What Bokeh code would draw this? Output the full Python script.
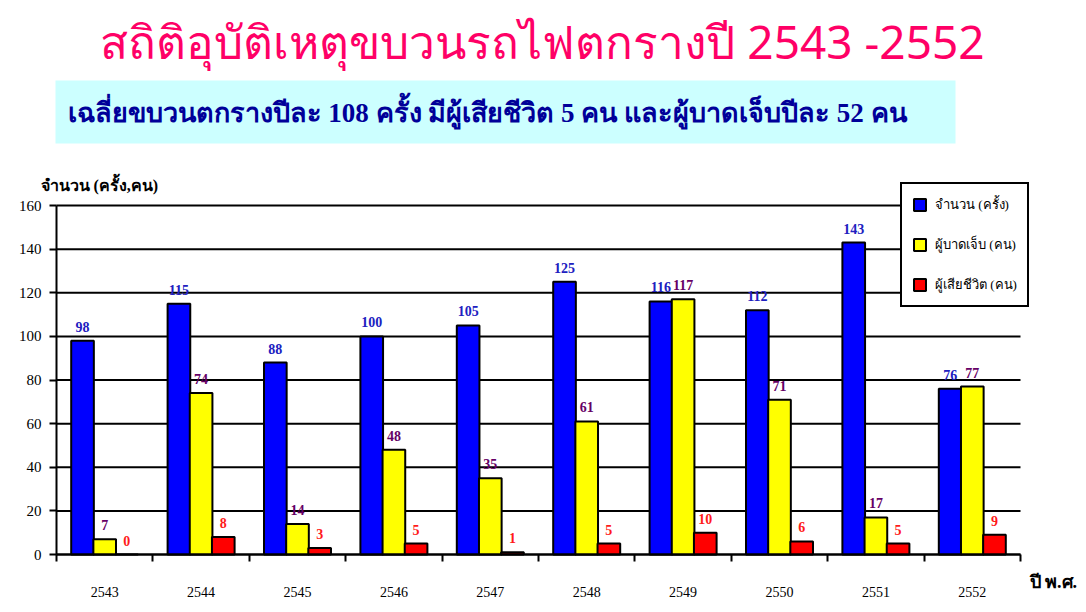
import numpy as np
from bokeh.plotting import figure
from bokeh.models import Range1d, FixedTicker, Label, BoxAnnotation, Legend, LegendItem, ColumnDataSource
from bokeh.core.properties import value
from bokeh.embed import file_html
from bokeh.resources import INLINE

# ---------------- data ----------------
years = ["2543", "2544", "2545", "2546", "2547", "2548", "2549", "2550", "2551", "2552"]
accidents = [98, 115, 88, 100, 105, 125, 116, 112, 143, 76]
injured = [7, 74, 14, 48, 35, 61, 117, 71, 17, 77]
deaths = [0, 8, 3, 5, 1, 5, 10, 6, 5, 9]

series_names = ["จำนวน (ครั้ง)", "ผู้บาดเจ็บ (คน)", "ผู้เสียชีวิต (คน)"]
title_text = "สถิติอุบัติเหตุขบวนรถไฟตกรางปี 2543 -2552"
subtitle_text = "เฉลี่ยขบวนตกรางปีละ 108 ครั้ง มีผู้เสียชีวิต 5 คน และผู้บาดเจ็บปีละ 52 คน"
y_title = "จำนวน (ครั้ง,คน)"
x_title = "ปี พ.ศ."
y_ticks = [0, 20, 40, 60, 80, 100, 120, 140, 160]

# ---------------- styles / layout ----------------
bar_colors = ["#0000FF", "#FFFF00", "#FF0000"]
label_colors = ["#2020C0", "#660066", "#FF1A1A"]
offsets = [-0.23, 0.0, 0.23]
bar_w = 0.235
SERIF = "Liberation Serif"

W, H = 1082, 608
NCAT = len(years)
YMAX = y_ticks[-1]
# canvas-pixel geometry of the chart area
PX_LEFT, PX_RIGHT, PX_TOP, PX_BOTTOM = 56, 1020, 205, 554
XS = (PX_RIGHT - PX_LEFT) / NCAT
YS = (PX_BOTTOM - PX_TOP) / YMAX

def dx(px):  # canvas pixel x -> data x
    return (px - PX_LEFT) / XS

def dy(py):  # canvas pixel y -> data y
    return (PX_BOTTOM - py) / YS

x_range = Range1d(dx(0), dx(W))
y_range = Range1d(dy(H), dy(0))

p = figure(width=W, height=H, x_range=x_range, y_range=y_range,
           output_backend="svg", toolbar_location=None,
           min_border_left=0, min_border_right=0, min_border_top=0, min_border_bottom=0)
p.outline_line_color = None
p.background_fill_color = "white"
p.border_fill_color = "white"
p.xgrid.visible = False
p.ygrid.visible = False

centers = np.arange(NCAT) + 0.5

# subtitle box
p.add_layout(BoxAnnotation(left=dx(55), right=dx(955), top=dy(80), bottom=dy(143),
                           fill_color="#CCFFFF", fill_alpha=1.0, line_color=None, level="underlay"))

# horizontal grid lines across the category span
p.segment(x0=0, x1=NCAT, y0=y_ticks, y1=y_ticks, line_color="black", line_width=2, level="underlay")

# axes
yax = p.yaxis[0]
yax.fixed_location = 0
yax.bounds = (0, YMAX)
yax.ticker = FixedTicker(ticks=y_ticks)
yax.axis_line_color = "black"
yax.axis_line_width = 2
yax.major_tick_line_color = "black"
yax.major_tick_line_width = 2
yax.major_tick_out = 7
yax.major_tick_in = 0
yax.minor_tick_line_color = None
yax.major_label_standoff = 8
yax.major_label_text_font = SERIF
yax.major_label_text_font_size = "15px"
yax.major_label_text_color = "black"

xax = p.xaxis[0]
xax.fixed_location = 0
xax.bounds = (0, NCAT)
xax.ticker = FixedTicker(ticks=[float(c) for c in centers], minor_ticks=list(range(NCAT + 1)))
xax.major_label_overrides = {float(c): y for c, y in zip(centers, years)}
xax.axis_line_color = "black"
xax.axis_line_width = 2
xax.major_tick_line_color = None
xax.major_tick_out = 0
xax.major_tick_in = 0
xax.minor_tick_line_color = "black"
xax.minor_tick_line_width = 2
xax.minor_tick_out = 7
xax.minor_tick_in = 0
xax.major_label_standoff = 25
xax.major_label_text_font = SERIF
xax.major_label_text_font_size = "14px"
xax.major_label_text_color = "black"

# bars + value labels
renderers = []
for vals, off, col, lcol in zip([accidents, injured, deaths], offsets, bar_colors, label_colors):
    src = ColumnDataSource(dict(x=centers + off, top=vals, lab=[str(v) for v in vals]))
    r = p.vbar(x="x", top="top", width=bar_w, source=src, fill_color=col,
               line_color="black", line_width=2)
    renderers.append(r)
    p.text(x="x", y="top", text="lab", source=src, text_align="center", text_baseline="bottom",
           y_offset=-9, text_font=value(SERIF), text_font_style="bold",
           text_font_size="14px", text_color=lcol)

legend = Legend(items=[LegendItem(label=n, renderers=[r]) for n, r in zip(series_names, renderers)],
                location=(900, H - 307), border_line_color="black", border_line_width=2,
                border_line_alpha=1.0,
                background_fill_color="white", background_fill_alpha=1.0,
                padding=10, spacing=19, margin=0, glyph_height=15, glyph_width=15,
                label_height=15, label_standoff=8, label_text_font=SERIF,
                label_text_font_size="13px", label_text_color="black")
p.add_layout(legend)

# texts
p.add_layout(Label(x=dx(542), y=dy(40), text=title_text, text_align="center",
                   text_baseline="middle", text_font="Noto Sans", text_font_size="46px",
                   text_color="#FF0066"))
p.add_layout(Label(x=dx(67), y=dy(112), text=subtitle_text, text_align="left",
                   text_baseline="middle", text_font=SERIF, text_font_style="bold",
                   text_font_size="27px", text_color="#000099"))
p.add_layout(Label(x=dx(40), y=dy(185), text=y_title, text_align="left",
                   text_baseline="middle", text_font=SERIF, text_font_style="bold",
                   text_font_size="16px", text_color="black"))
p.add_layout(Label(x=dx(1029), y=dy(581), text=x_title, text_align="left",
                   text_baseline="middle", text_font=SERIF, text_font_style="bold",
                   text_font_size="18px", text_color="black"))

open("out.html", "w").write(file_html(p, INLINE))
